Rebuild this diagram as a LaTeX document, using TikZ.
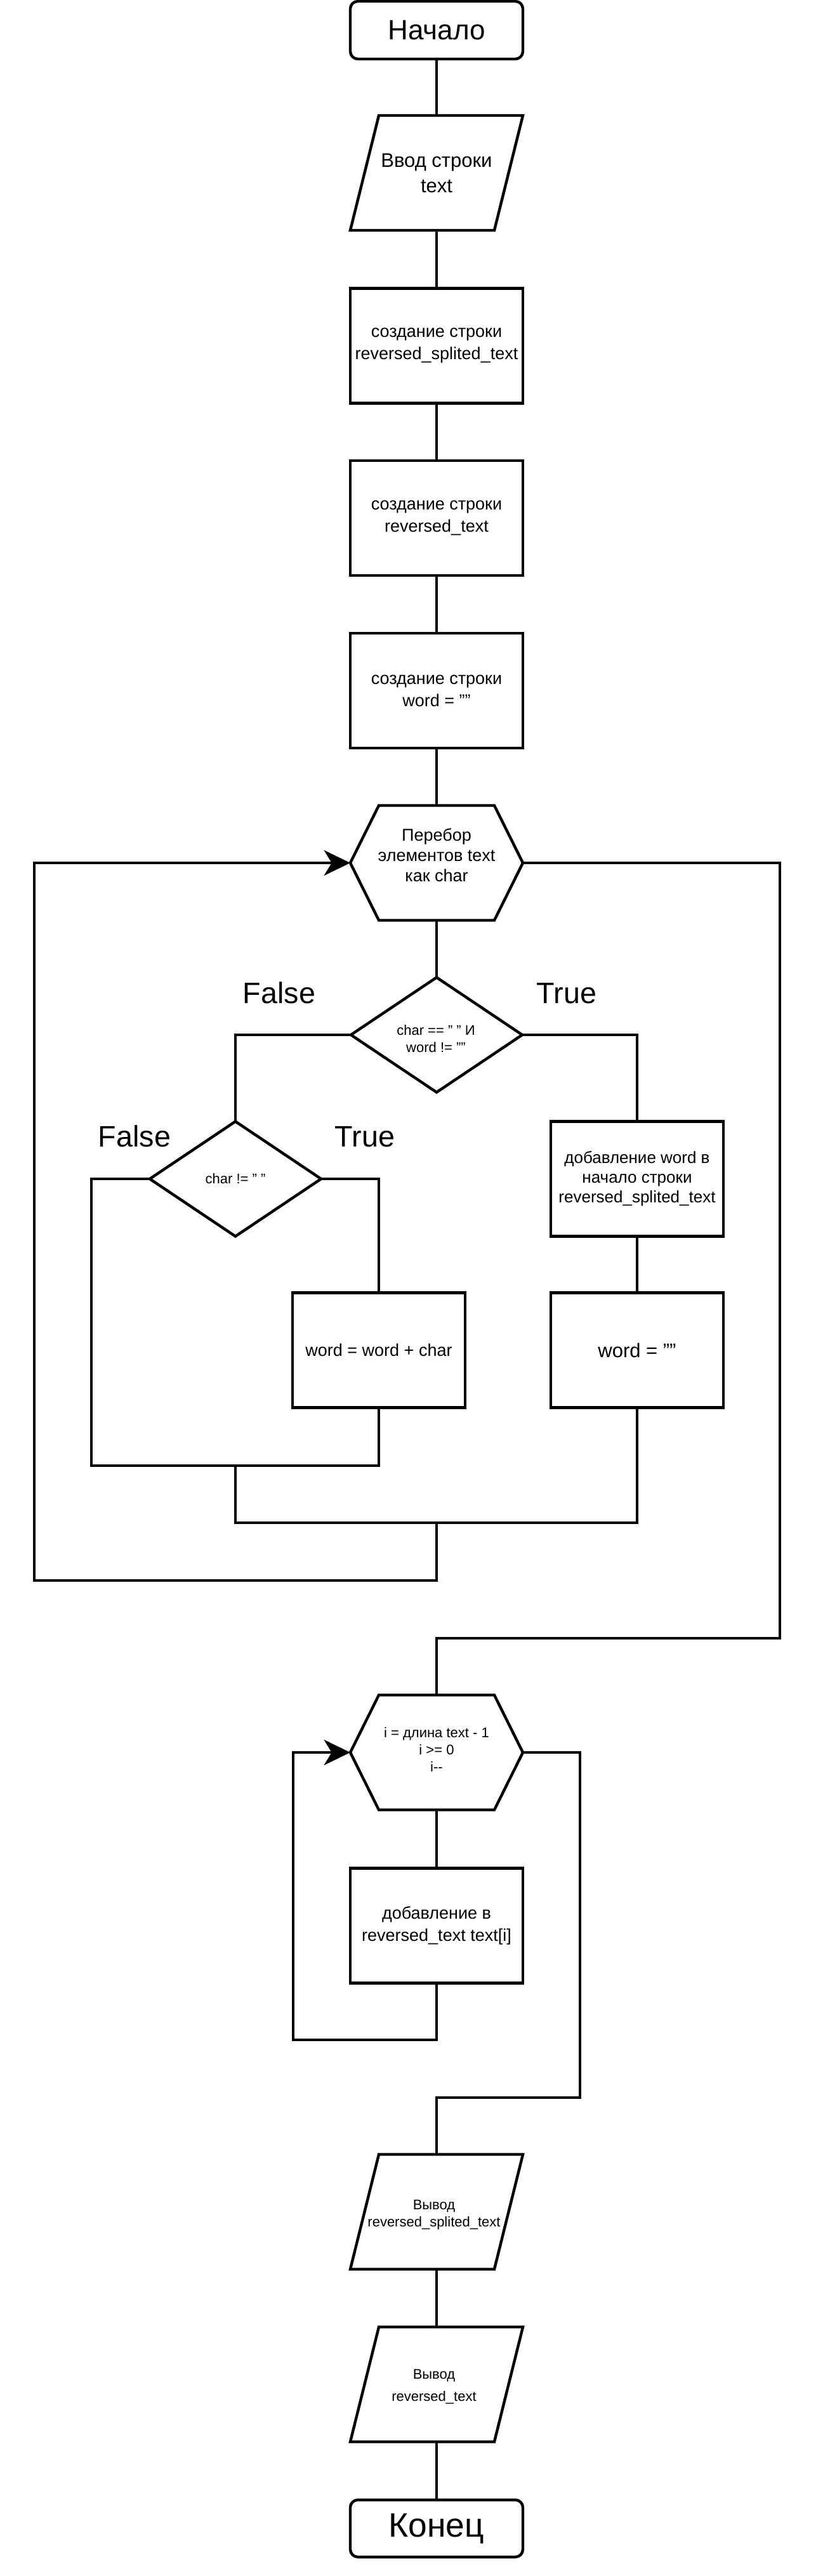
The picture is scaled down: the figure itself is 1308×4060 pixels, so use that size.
\documentclass[tikz,border=0pt]{standalone}
\usepackage{fontspec}
\setmainfont{Liberation Sans}
\usetikzlibrary{calc,arrows.meta}
\newcommand\hexout[1]{\draw[lw] ($(#1.north west)+(45,0)$) -- ($(#1.north east)+(-45,0)$) -- (#1.east) -- ($(#1.south east)+(-45,0)$) -- ($(#1.south west)+(45,0)$) -- (#1.west) -- cycle;}
\newcommand\paraout[1]{\draw[lw] ($(#1.north west)+(45,0)$) -- (#1.north east) -- ($(#1.south east)+(-45,0)$) -- (#1.south west) -- cycle;}
\newcommand\diaout[1]{\draw[lw] (#1.north) -- (#1.east) -- (#1.south) -- (#1.west) -- cycle;}
\begin{document}
\begin{tikzpicture}[x=0.75pt,y=-0.75pt,
  lw/.style={line width=3.3pt},
  base/.style={inner sep=0pt, outer sep=0pt, align=center, minimum width=204pt},
  term/.style={base, draw, lw, rounded corners=9pt, minimum height=68.25pt},
  proc/.style={base, draw, lw, minimum height=135.75pt},
  blank/.style={base, minimum height=135.75pt},
  txt/.style={inner sep=0pt, align=center},
  con/.style={lw},
  arr/.style={lw, -{Stealth[length=31pt,width=30pt,inset=9pt]}},
  lbl/.style={anchor=base, inner sep=0pt, font=\fontsize{35}{42}\selectfont}
]
\useasboundingbox (0,0) rectangle (1308,4060);

% main column
\node[term, font=\fontsize{33}{40}\selectfont] (start) at (688,47.5) {Начало};
\node[blank, font=\fontsize{23.25}{30}\selectfont] (in) at (688,272.5) {Ввод строки\\text};
\paraout{in}
\node[proc, font=\fontsize{20.25}{26.25}\selectfont] (r1) at (688,545) {создание строки\\reversed\_splited\_text};
\node[proc, font=\fontsize{20.25}{26.25}\selectfont] (r2) at (688,816.5) {создание строки\\reversed\_text};
\node[proc, font=\fontsize{20.25}{26.25}\selectfont] (r3) at (688,1088.5) {создание строки\\word = ""};
\node[blank] (h1) at (688,1360) {};
\hexout{h1}
\node[txt, font=\fontsize{20.25}{24}\selectfont] (h1t) at (688,1348) {Перебор\\элементов text\\как char};
\node[blank, minimum width=202.5pt] (d1) at (688,1631) {};
\diaout{d1}
\node[txt, font=\fontsize{16.5}{20.25}\selectfont] (d1t) at (687,1637) {char == " " И\\word != ""};
\node[blank, minimum width=202.5pt, font=\fontsize{16.5}{20.25}\selectfont] (d2) at (371,1858) {char != " "};
\diaout{d2}
\node[proc, font=\fontsize{19.5}{23.25}\selectfont] (a1) at (1004,1858) {добавление word в\\начало строки\\reversed\_splited\_text};
\node[proc, font=\fontsize{20.25}{26.25}\selectfont] (wc) at (597,2128) {word = word + char};
\node[proc, font=\fontsize{23.25}{28}\selectfont] (we) at (1004,2128) {word = ""};

\node[blank] (h2) at (688,2762) {};
\hexout{h2}
\node[txt, font=\fontsize{16.5}{20.25}\selectfont] (h2t) at (688,2757) {i = длина text - 1\\i >= 0\\i-\kern0pt-};
\node[proc, font=\fontsize{20.25}{26.25}\selectfont] (r4) at (688,3035) {добавление в\\reversed\_text text[i]};
\node[blank] (o1) at (688,3486) {};
\paraout{o1}
\node[txt, font=\fontsize{16.5}{20.25}\selectfont] (o1t) at (684,3491) {Вывод\\reversed\_splited\_text};
\node[blank] (o2) at (688,3758) {};
\paraout{o2}
\node[txt, font=\fontsize{16.5}{26.25}\selectfont] (o2t) at (684,3762) {Вывод\\reversed\_text};
\node[term, minimum height=67.5pt, font=\fontsize{40}{48}\selectfont] (end) at (688,3985) {Конец};

% labels
\node[lbl] (f1) at (440,1581) {False};
\node[lbl] (t1) at (893,1581) {True};
\node[lbl] (f2) at (212,1807) {False};
\node[lbl] (t2) at (575,1807) {True};

% helper coordinates
\coordinate (fl) at (144,2310);
\coordinate (j1) at (371,2310);
\coordinate (j2) at (371,2400);
\coordinate (j3) at (688,2400);
\coordinate (lb) at (54,2491);
\coordinate (rc) at (1229,2582);
\coordinate (lb2) at (462,3215);
\coordinate (rc2) at (914,3306);

% connectors
\draw[con] (start.south) -- (in.north);
\draw[con] (in.south) -- (r1.north);
\draw[con] (r1.south) -- (r2.north);
\draw[con] (r2.south) -- (r3.north);
\draw[con] (r3.south) -- (h1.north);
\draw[con] (h1.south) -- (d1.north);
\draw[con] (d1.west) -| (d2.north);
\draw[con] (d1.east) -| (a1.north);
\draw[con] (a1.south) -- (we.north);
\draw[con] (d2.east) -| (wc.north);
\draw[con] (d2.west) -| (fl) -| (wc.south);
\draw[con] (j1) -- (j2) -| (we.south);
\draw[arr] (j3) |- (lb) |- (h1.west);
\draw[con] (h1.east) -| (rc) -| (h2.north);
\draw[con] (h2.south) -- (r4.north);
\draw[arr] (r4.south) |- (lb2) |- (h2.west);
\draw[con] (h2.east) -| (rc2) -| (o1.north);
\draw[con] (o1.south) -- (o2.north);
\draw[con] (o2.south) -- (end.north);
\end{tikzpicture}
\end{document}
